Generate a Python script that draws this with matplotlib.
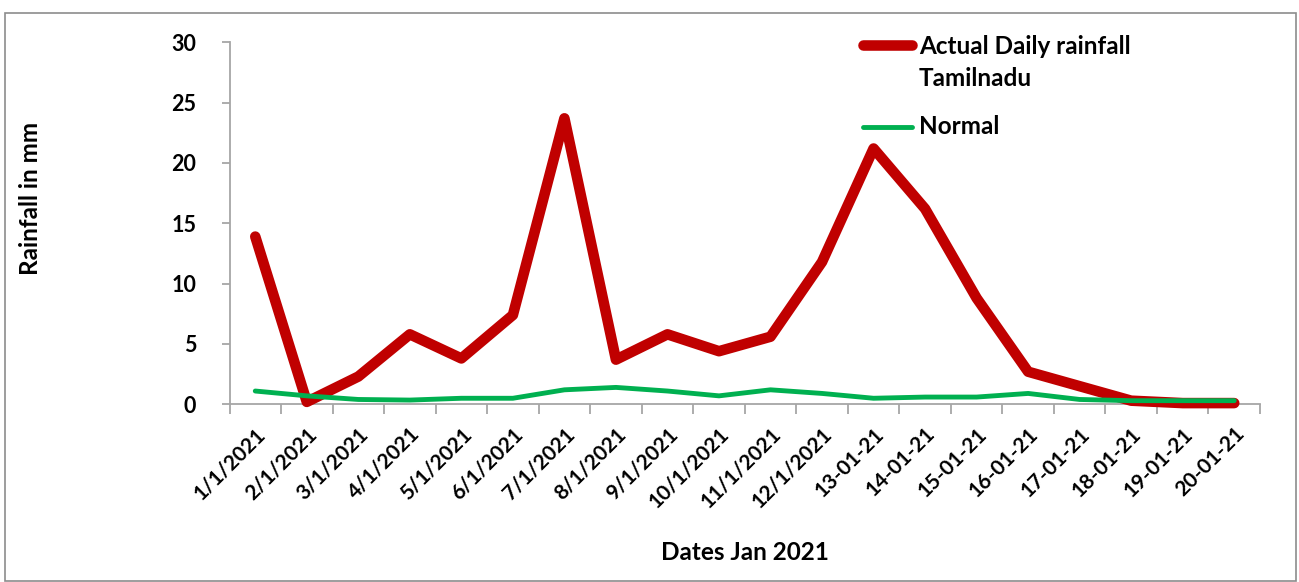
import matplotlib
matplotlib.use("Agg")
import matplotlib.pyplot as plt
from matplotlib.lines import Line2D
from matplotlib.patches import Rectangle
import numpy as np

dates = ["1/1/2021", "2/1/2021", "3/1/2021", "4/1/2021", "5/1/2021",
         "6/1/2021", "7/1/2021", "8/1/2021", "9/1/2021", "10/1/2021",
         "11/1/2021", "12/1/2021", "13-01-21", "14-01-21", "15-01-21",
         "16-01-21", "17-01-21", "18-01-21", "19-01-21", "20-01-21"]
actual = [13.9, 0.2, 2.3, 5.8, 3.8, 7.4, 23.7, 3.7, 5.8, 4.4,
          5.6, 11.8, 21.2, 16.2, 8.8, 2.7, 1.5, 0.3, 0.1, 0.1]
normal = [1.1, 0.7, 0.4, 0.35, 0.5, 0.5, 1.2, 1.4, 1.1, 0.7,
          1.2, 0.9, 0.5, 0.6, 0.6, 0.9, 0.4, 0.3, 0.3, 0.3]
yticks = [0, 5, 10, 15, 20, 25, 30]

RED = "#C00000"
GREEN = "#00B050"
AXIS_GRAY = "#A6A6A6"

plt.rcParams["font.family"] = ["Lato", "DejaVu Sans"]
plt.rcParams["font.weight"] = "bold"

fig = plt.figure(figsize=(12.99, 5.82), dpi=100)
fig.patch.set_facecolor("white")

# outer chart border
fig.add_artist(Rectangle((5 / 1299, 0.002), 1291 / 1299, 1 - 12.5 / 582 - 0.002,
                         transform=fig.transFigure, fill=False,
                         edgecolor="#8C8C8C", linewidth=1.2))

ax = fig.add_axes([229.5 / 1299, 1 - 404.3 / 582, (1260 - 229.5) / 1299,
                   (404.3 - 42.3) / 582])

x = np.arange(len(dates))
ax.plot(x, actual, color=RED, linewidth=7.6, solid_capstyle="round",
        solid_joinstyle="round", clip_on=False, zorder=3)
ax.plot(x, normal, color=GREEN, linewidth=3.5, solid_capstyle="round",
        solid_joinstyle="round", clip_on=False, zorder=4)

ax.set_xlim(-0.5, len(dates) - 0.5)
ax.set_ylim(0, 30)

for side in ("top", "right"):
    ax.spines[side].set_visible(False)
for side in ("left", "bottom"):
    ax.spines[side].set_color(AXIS_GRAY)
    ax.spines[side].set_linewidth(1.3)

ax.set_yticks(yticks)
ax.set_yticklabels([str(v) for v in yticks], fontsize=15.5, fontweight="bold")
ax.tick_params(axis="y", direction="out", length=6, width=1.3,
               color=AXIS_GRAY, pad=18)

ax.set_xticks(x)
ax.set_xticklabels(dates, fontsize=15, fontweight="bold", rotation=45,
                   ha="right", va="top", rotation_mode="anchor")
ax.tick_params(axis="x", which="major", length=0, pad=14)
ax.set_xticks(np.arange(-0.5, len(dates)), minor=True)
ax.tick_params(axis="x", which="minor", direction="out", length=7,
               width=1.3, color=AXIS_GRAY)

fig.text(31 / 1299, 1 - 198 / 582, "Rainfall in mm", fontsize=17.5,
         fontweight="bold", rotation=90, ha="center", va="center")
fig.text(745 / 1299, 1 - 552 / 582, "Dates Jan 2021", fontsize=17.5,
         fontweight="bold", ha="center", va="center")

# legend
LEG_FS = 17.5
fig.add_artist(Line2D([863 / 1299, 912 / 1299], [1 - 45 / 582] * 2,
                      transform=fig.transFigure, color=RED, linewidth=7.6,
                      solid_capstyle="round"))
fig.text(919 / 1299, 1 - 47 / 582, "Actual Daily rainfall", fontsize=LEG_FS,
         fontweight="bold", ha="left", va="center")
fig.text(919 / 1299, 1 - 79 / 582, "Tamilnadu", fontsize=LEG_FS,
         fontweight="bold", ha="left", va="center")
fig.add_artist(Line2D([863 / 1299, 912 / 1299], [1 - 127 / 582] * 2,
                      transform=fig.transFigure, color=GREEN, linewidth=3.5,
                      solid_capstyle="round"))
fig.text(919 / 1299, 1 - 127 / 582, "Normal", fontsize=LEG_FS,
         fontweight="bold", ha="left", va="center")

fig.savefig("out.png", dpi=100, facecolor="white")
